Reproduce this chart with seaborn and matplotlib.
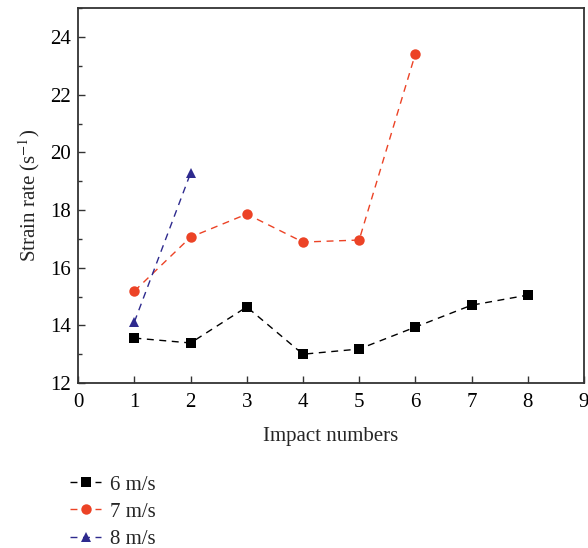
import matplotlib.pyplot as plt
import seaborn as sns
import pandas as pd
from matplotlib.ticker import MultipleLocator

sns.set_style("white")
plt.rcParams["font.family"] = ["Liberation Serif", "DejaVu Serif"]
plt.rcParams["mathtext.fontset"] = "stix"

# values
impacts_6 = [1, 2, 3, 4, 5, 6, 7, 8]
rate_6 = [13.56, 13.39, 14.64, 13.0, 13.18, 13.94, 14.7, 15.05]
impacts_7 = [1, 2, 3, 4, 5, 6]
rate_7 = [15.19, 17.06, 17.86, 16.89, 16.96, 23.41]
impacts_8 = [1, 2]
rate_8 = [14.12, 19.28]

labels = ["6 m/s", "7 m/s", "8 m/s"]
colors = ["#000000", "#EC4326", "#2E2A8E"]
markers = ["s", "o", "^"]

df = pd.concat([
    pd.DataFrame({"impact": impacts_6, "rate": rate_6, "speed": labels[0]}),
    pd.DataFrame({"impact": impacts_7, "rate": rate_7, "speed": labels[1]}),
    pd.DataFrame({"impact": impacts_8, "rate": rate_8, "speed": labels[2]}),
])

fig = plt.figure(figsize=(5.88, 5.48), dpi=100)
ax = fig.add_axes([0.133, 0.301, 0.860, 0.684])

for lab, c, m in zip(labels, colors, markers):
    sub = df[df.speed == lab]
    sns.lineplot(data=sub, x="impact", y="rate", ax=ax, color=c, marker=m,
                 markersize=7.5, markeredgewidth=0, linewidth=1,
                 linestyle=(0, (5, 4)), label=lab)

ax.set_xlim(0, 9)
ax.set_ylim(12, 25)
ax.xaxis.set_major_locator(MultipleLocator(1))
ax.yaxis.set_minor_locator(MultipleLocator(1))
ax.set_yticks([12, 14, 16, 18, 20, 22, 24])
ax.tick_params(axis="both", which="both", direction="in", labelsize=15,
               top=False, right=False, bottom=True, left=True)
ax.tick_params(which="major", length=5, width=1, colors="#333333",
               labelcolor="black", pad=5)
ax.tick_params(axis="x", which="major", pad=7)
ax.tick_params(axis="y", which="minor", length=3, width=1, colors="#333333")
for s in ax.spines.values():
    s.set_color("#333333")
    s.set_linewidth(1.3)

ax.set_xlabel("Impact numbers", fontsize=15, labelpad=11)
ax.set_ylabel(r"Strain rate (s$^{-1}$)", fontsize=15, labelpad=6)

ax.get_legend().remove()
h, l = ax.get_legend_handles_labels()
fig.legend(h, l, loc="upper left", bbox_to_anchor=(0.119, 0.133), frameon=False,
           fontsize=15, handlelength=1.5, labelspacing=0.36, borderaxespad=0,
           handletextpad=0.4, borderpad=0)

fig.savefig("out.png", dpi=100)
